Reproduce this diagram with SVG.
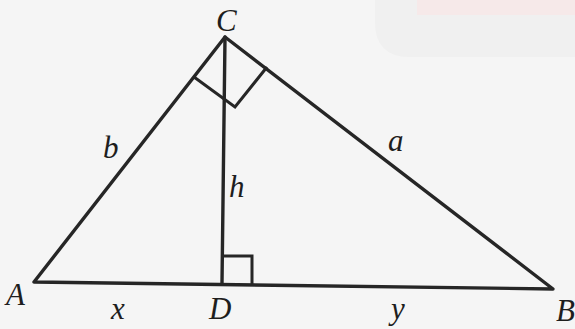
<svg xmlns="http://www.w3.org/2000/svg" width="575" height="329" viewBox="0 0 575 329">
<style>
.ln{stroke:#262626;stroke-width:3.4;fill:none;stroke-linecap:round;stroke-linejoin:round}
.sq{stroke:#262626;stroke-width:3;fill:none}
.lb{font-family:"Liberation Serif","Times New Roman",serif;font-style:italic;font-size:31px;fill:#1e1e1e}
</style>
<rect width="575" height="329" fill="#f5f5f5"/>
<g id="watermark" opacity="0.5">
<path d="M375 0 H575 V57 H410 Q375 57 375 22 Z" fill="#ececec"/>
<rect x="417" y="0" width="158" height="15" fill="#f7dede"/>
</g>
<g id="triangle">
<polyline class="ln" points="34,282 553,289 225,37 34,282"/>
<line class="ln" x1="225" y1="37" x2="222" y2="283"/>
</g>
<g id="right-angles">
<polyline class="sq" points="194,77 235,107 267,67"/>
<polyline class="sq" points="222,256 252,256 252,284"/>
</g>
<g id="labels">
<text class="lb" x="216" y="31">C</text>
<text class="lb" x="6" y="305">A</text>
<text class="lb" x="556" y="321">B</text>
<text class="lb" x="209" y="319">D</text>
<text class="lb" x="103" y="158">b</text>
<text class="lb" x="229" y="197">h</text>
<text class="lb" x="388" y="151">a</text>
<text class="lb" x="111" y="319">x</text>
<text class="lb" x="391" y="319">y</text>
</g>
</svg>
